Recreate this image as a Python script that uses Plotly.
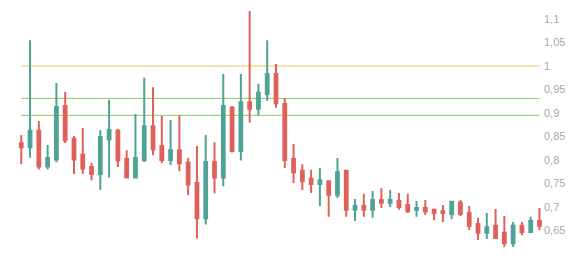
import plotly.graph_objects as go

# Candle data (index-based x)
opens = [0.8355, 0.827, 0.862, 0.786, 0.801, 0.915, 0.845, 0.811, 0.785, 0.770,
         0.844, 0.862, 0.802, 0.763, 0.800, 0.872, 0.830, 0.800, 0.821, 0.794,
         0.751, 0.676, 0.796, 0.763, 0.911, 0.819, 0.923, 0.909, 0.940, 0.983,
         0.919, 0.802, 0.777, 0.760, 0.749, 0.755, 0.726, 0.777, 0.694, 0.702,
         0.694, 0.715, 0.709, 0.713, 0.704, 0.694, 0.698, 0.694, 0.691, 0.685,
         0.709, 0.687, 0.664, 0.645, 0.660, 0.645, 0.623, 0.660, 0.647, 0.670]
highs = [0.853, 1.055, 0.883, 0.832, 0.964, 0.945, 0.851, 0.868, 0.794, 0.864,
         0.928, 0.866, 0.821, 0.898, 0.975, 0.955, 0.894, 0.885, 0.896, 0.804,
         0.830, 0.853, 0.838, 0.983, 0.915, 0.983, 1.117, 0.962, 1.055, 1.004,
         0.932, 0.834, 0.791, 0.779, 0.783, 0.757, 0.804, 0.779, 0.717, 0.728,
         0.734, 0.740, 0.736, 0.730, 0.728, 0.713, 0.715, 0.696, 0.704, 0.713,
         0.715, 0.702, 0.677, 0.687, 0.696, 0.681, 0.668, 0.668, 0.679, 0.698]
lows = [0.791, 0.805, 0.780, 0.780, 0.795, 0.836, 0.770, 0.770, 0.757, 0.736,
        0.763, 0.785, 0.761, 0.761, 0.795, 0.810, 0.793, 0.789, 0.776, 0.725,
        0.633, 0.663, 0.729, 0.744, 0.816, 0.799, 0.880, 0.895, 0.926, 0.911,
        0.783, 0.751, 0.736, 0.730, 0.702, 0.679, 0.719, 0.679, 0.670, 0.679,
        0.677, 0.698, 0.700, 0.694, 0.687, 0.679, 0.683, 0.672, 0.668, 0.674,
        0.681, 0.651, 0.630, 0.632, 0.632, 0.615, 0.615, 0.640, 0.645, 0.651]
closes = [0.827, 0.862, 0.786, 0.804, 0.913, 0.842, 0.801, 0.782, 0.770, 0.849,
          0.864, 0.799, 0.763, 0.804, 0.872, 0.823, 0.800, 0.821, 0.793, 0.748,
          0.676, 0.796, 0.763, 0.915, 0.819, 0.923, 0.909, 0.943, 0.983, 0.921,
          0.800, 0.774, 0.755, 0.749, 0.757, 0.726, 0.774, 0.694, 0.702, 0.694,
          0.715, 0.709, 0.715, 0.700, 0.691, 0.698, 0.691, 0.687, 0.687, 0.711,
          0.685, 0.660, 0.645, 0.657, 0.634, 0.623, 0.660, 0.647, 0.670, 0.660]
x_index = list(range(len(opens)))

# Reference levels
level_values = [1.0, 0.931, 0.895]
level_colors = ["#e8c25a", "#8ccb6c", "#8ccb6c"]

# Y tick values
y_ticks = [0.65, 0.7, 0.75, 0.8, 0.85, 0.9, 0.95, 1.0, 1.05, 1.1]

fig = go.Figure()
fig.add_trace(go.Candlestick(
    x=x_index, open=opens, high=highs, low=lows, close=closes,
    increasing=dict(line=dict(color="#4fa294", width=2), fillcolor="#4fa294"),
    decreasing=dict(line=dict(color="#e0605a", width=2), fillcolor="#e0605a"),
    whiskerwidth=0,
    showlegend=False,
    hoverinfo="none",
))

for v, c in zip(level_values, level_colors):
    fig.add_shape(type="line", xref="x", yref="y",
                  x0=x_index[0], x1=x_index[-1], y0=v, y1=v,
                  line=dict(color=c, width=1), layer="below")

fig.update_layout(
    width=584, height=258,
    margin=dict(l=16, r=41, t=5, b=4),
    paper_bgcolor="white", plot_bgcolor="white",
    separators=", ",
    boxgap=0.55,
    showlegend=False,
    font=dict(family="Arial, Liberation Sans, sans-serif", size=11, color="#a8a8a8"),
    xaxis=dict(visible=False, range=[-0.6, 59.4], rangeslider=dict(visible=False),
               fixedrange=True),
    yaxis=dict(side="right", range=[0.6, 1.1298], tickvals=y_ticks,
               showgrid=False, zeroline=False, showline=False, ticks="",
               tickfont=dict(size=11, color="#a8a8a8"), fixedrange=True),
)

fig.write_html("out.html")
